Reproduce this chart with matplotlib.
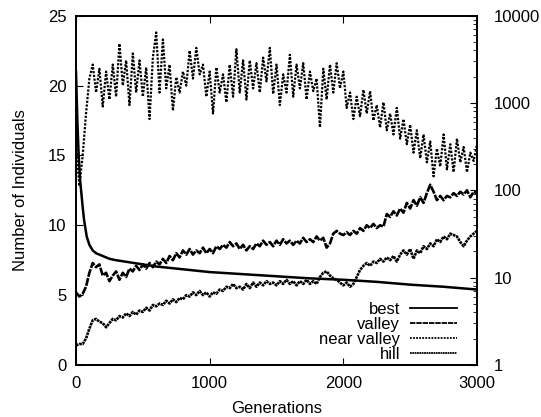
import matplotlib
import numpy as np

matplotlib.use("Agg")
import matplotlib.pyplot as plt
from matplotlib.ticker import LogLocator, FixedLocator, NullFormatter

plt.rcParams["font.family"] = ["Liberation Sans", "DejaVu Sans"]
plt.rcParams["font.size"] = 12

# generations sampled every 25 steps for the noisy series
gens = np.arange(0, 3001, 25)

near_valley = [
    16.0, 12.8, 15.0, 18.0, 20.5, 21.5, 19.5, 21.2, 18.5, 21.0,
    19.0, 21.5, 19.2, 23.0, 20.0, 21.8, 18.6, 22.3, 19.5, 21.8,
    19.2, 21.3, 17.6, 22.0, 23.8, 19.5, 23.3, 19.8, 21.5, 18.2,
    20.6, 19.5, 21.0, 20.0, 22.5, 20.5, 22.7, 20.8, 21.5, 19.2,
    21.0, 18.0, 21.3, 19.5, 20.8, 18.8, 21.5, 19.2, 22.6, 19.5,
    21.8, 19.0, 21.8, 19.8, 21.6, 19.5, 22.0, 20.3, 22.7, 19.4,
    21.5, 18.6, 20.8, 19.5, 22.2, 19.2, 21.5, 19.8, 21.6, 19.0,
    21.0, 19.6, 20.5, 17.0, 21.2, 19.0, 21.5, 19.5, 21.6, 19.8,
    21.0, 18.4, 19.5, 17.6, 19.2, 17.8, 19.7, 18.0, 19.6, 17.5,
    18.6, 17.0, 18.8, 16.8, 18.0, 16.5, 18.4, 16.2, 17.6, 15.8,
    17.2, 15.2, 16.8, 14.8, 16.5, 14.5, 16.0, 13.5, 15.5, 14.2,
    16.5, 14.0, 15.8, 13.8, 16.2, 14.5, 15.6, 13.8, 15.2, 14.6,
    15.8,
]

valley = [
    5.2, 4.9, 5.1, 5.6, 6.6, 7.3, 7.0, 7.2, 6.4, 6.6,
    6.0, 6.4, 6.7, 6.1, 6.6, 6.3, 6.9, 6.7, 7.1, 6.8,
    7.2, 6.9, 7.3, 7.0, 7.4, 7.2, 7.6, 7.3, 7.8, 7.5,
    8.0, 7.7, 8.2, 7.9, 8.3, 7.9, 8.2, 8.0, 8.4, 8.0,
    8.3, 8.0, 8.5, 8.3, 8.6, 8.4, 8.8, 8.5, 8.7, 8.3,
    8.6, 8.2, 8.5, 8.3, 8.7, 8.5, 8.9, 8.6, 8.8, 8.5,
    8.9, 8.6, 9.0, 8.7, 8.9, 8.6, 8.9, 8.7, 9.1, 8.8,
    9.0, 8.8, 9.2, 8.9, 9.1, 8.4, 8.7, 9.4, 9.6, 9.4,
    9.3, 9.5, 9.3, 9.6, 9.4, 9.8, 9.6, 10.0, 9.8, 10.1,
    9.8, 10.0, 9.9, 10.8, 10.6, 11.0, 10.7, 11.2, 10.9, 11.6,
    11.2, 11.8, 11.4, 12.0, 11.6, 12.3, 12.9, 12.4, 11.8, 12.1,
    11.8, 12.1, 12.0, 12.3, 12.1, 12.4, 12.2, 12.5, 12.0, 12.4,
    12.3,
]

hill = [
    1.4, 1.5, 1.5, 1.9, 2.6, 3.2, 3.3, 3.1, 3.0, 2.7,
    3.0, 3.3, 3.2, 3.5, 3.4, 3.7, 3.5, 3.8, 3.6, 3.9,
    3.8, 4.1, 3.9, 4.3, 4.2, 4.4, 4.3, 4.6, 4.4, 4.7,
    4.5, 4.8, 4.7, 5.0, 4.9, 5.2, 5.0, 5.3, 5.0, 5.2,
    4.9, 5.2, 5.1, 5.4, 5.3, 5.6, 5.5, 5.8, 5.5, 5.6,
    5.4, 5.8, 5.5, 5.9, 5.6, 5.9, 5.7, 6.0, 5.8, 5.9,
    5.7, 6.0, 5.8, 6.1, 5.8, 6.0, 5.7, 6.0, 5.8, 6.1,
    5.8, 6.0, 5.8, 6.3, 6.6, 6.7, 6.4, 6.2, 6.1, 5.9,
    5.7, 5.9, 5.6, 5.8, 6.3, 6.8, 7.1, 7.3, 7.1, 7.4,
    7.3, 7.6, 7.4, 7.7, 7.5, 7.8, 7.4, 7.9, 8.2, 7.9,
    8.3, 7.6, 8.2, 8.0, 8.5, 8.3, 8.7, 8.5, 9.0, 8.8,
    9.2, 9.0, 9.4, 9.3, 9.2, 8.8, 8.5, 8.9, 9.2, 9.4,
    9.6,
]

best_gens = [0, 10, 20, 30, 40, 50, 60, 80, 100, 125, 150, 200, 250, 300,
             400, 500, 600, 800, 1000, 1250, 1500, 1750, 2000, 2250, 2500,
             2750, 3000]
best = [21.0, 17.5, 15.0, 13.3, 12.3, 11.3, 10.4, 9.2, 8.6, 8.2, 8.0, 7.8,
        7.6, 7.5, 7.35, 7.2, 7.05, 6.85, 6.65, 6.5, 6.35, 6.2, 6.1, 5.95,
        5.75, 5.6, 5.4]

fig = plt.figure(figsize=(5.41, 4.17), dpi=100)
ax = fig.add_axes([0.1405, 0.1247, 0.7412, 0.8377])

ax.plot(best_gens, best, color="black", lw=1.8, label="best")
ax.plot(gens, valley, color="black", lw=1.9, ls=(0, (3, 0.5)), label="valley")
ax.plot(gens, near_valley, color="black", lw=1.6, ls=(0, (1.0, 0.7)),
        label="near valley")
ax.plot(gens, hill, color="black", lw=1.9, ls=(0, (1, 0.3)), label="hill")

ax.set_xlim(0, 3000)
ax.set_ylim(0, 25)
ax.set_xticks([0, 1000, 2000, 3000])
ax.set_yticks([0, 5, 10, 15, 20, 25])
ax.tick_params(axis="x", direction="in", top=True, length=5, pad=8)
ax.tick_params(axis="y", direction="in", right=False, length=5, pad=7)
for s in ax.spines.values():
    s.set_linewidth(1.3)

ax.set_xlabel("Generations", labelpad=7)
ax.set_ylabel("Number of Individuals", labelpad=14)

# right-hand log axis
ax2 = ax.twinx()
ax2.set_yscale("log")
ax2.set_ylim(1, 10000)
ax2.yaxis.set_major_locator(FixedLocator([1, 10, 100, 1000, 10000]))
ax2.set_yticklabels(["1", "10", "100", "1000", "10000"])
ax2.yaxis.set_minor_locator(LogLocator(base=10, subs=np.arange(2, 10)))
ax2.yaxis.set_minor_formatter(NullFormatter())
ax2.tick_params(axis="y", which="major", direction="in", length=5, pad=12)
ax2.tick_params(axis="y", which="minor", direction="in", length=3)
for s in ax2.spines.values():
    s.set_linewidth(1.3)

leg = ax.legend(loc="lower right", bbox_to_anchor=(0.95, 0.01),
                frameon=False, markerfirst=False, handlelength=2.8,
                handletextpad=0.6, labelspacing=0.0, borderpad=0,
                borderaxespad=0)
for line in leg.get_lines():
    line.set_linewidth(1.3)

fig.savefig("out.png", dpi=100)
